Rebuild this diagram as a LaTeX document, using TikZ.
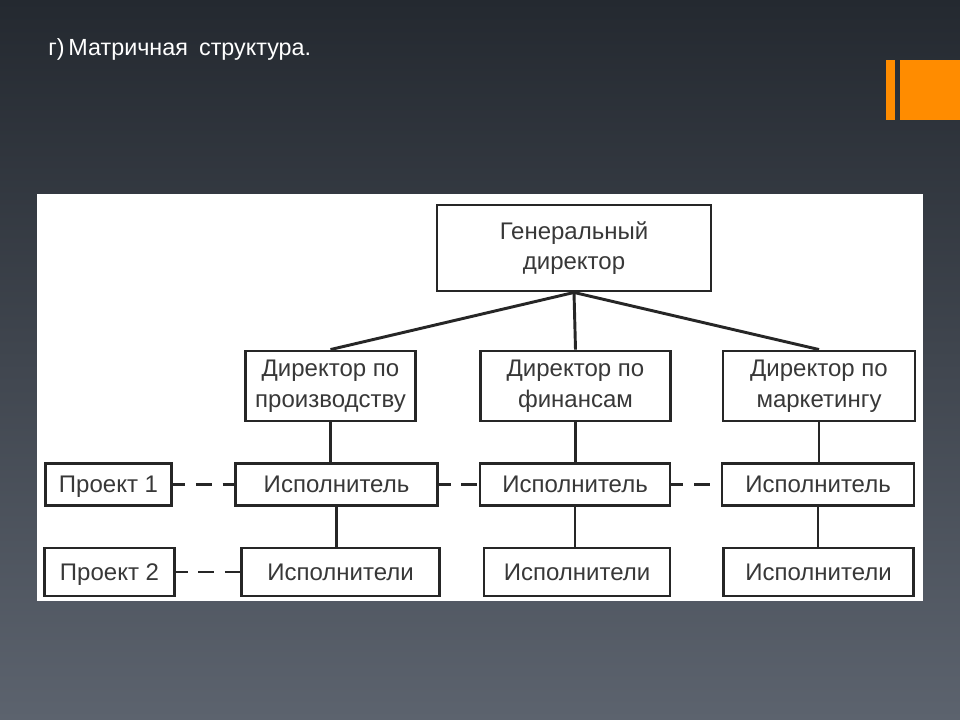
\documentclass[tikz,border=0pt]{standalone}
\usepackage{fontspec}
\setmainfont{Liberation Sans}
\usetikzlibrary{positioning}
\definecolor{bgtop}{RGB}{36,41,48}
\definecolor{bgmid}{RGB}{48,54,62}
\definecolor{bgbot}{RGB}{92,99,110}
\definecolor{accent}{RGB}{255,140,0}
\begin{document}
\begin{tikzpicture}[x=0.75pt,y=-0.75pt,box/.style={draw=black!85,line width=2.2pt,fill=white,align=center,inner sep=0pt,text=black!78,font=\fontsize{18}{23}\selectfont},link/.style={draw=black!85,line width=2.2pt},proj/.style={link,dash pattern=on 12pt off 8pt,dash phase=3pt}]
  % slide background
  \shade[top color=bgtop,middle color=bgmid,bottom color=bgbot] (0,0) rectangle (960,720);
  \useasboundingbox (0,0) rectangle (960,720);
  \fill[accent] (886,60) rectangle (895,120);
  \fill[accent] (900,60) rectangle (960,120);
  \node[anchor=base west,inner sep=0pt,text=white,font=\fontsize{17.5}{20}\selectfont] (title) at (48,56) {г)\,Матричная\hspace{0.2em} структура.};
  \fill[white] (37,194) rectangle (923,601);
  % top level
  \node[box,minimum width=205.5pt,minimum height=64.5pt] (gen) at (574,248) {Генеральный\\директор};
  \node[box,minimum width=128pt,minimum height=52.5pt] (d1) at (330.5,386) {Директор по\\производству};
  \node[box,minimum width=142pt,minimum height=52.5pt] (d2) at (575.5,386) {Директор по\\финансам};
  \node[box,minimum width=144pt,minimum height=52.5pt] (d3) at (819,386) {Директор по\\маркетингу};
  % project 1 row
  \node[box,minimum width=95pt,minimum height=32pt,text depth=0pt] (p1) at (108.5,484.5) {Проект 1};
  \node[box,minimum width=151pt,minimum height=32pt] (e1) at (336.5,484.5) {Исполнитель};
  \node[box,minimum width=142.5pt,minimum height=32pt] (e2) at (575,484.5) {Исполнитель};
  \node[box,minimum width=144pt,minimum height=32pt] (e3) at (818,484.5) {Исполнитель};
  % project 2 row
  \node[box,minimum width=97pt,minimum height=36pt,text depth=0pt] (p2) at (109.5,572) {Проект 2};
  \node[box,minimum width=148pt,minimum height=36pt] (t1) at (340.5,572) {Исполнители};
  \node[box,minimum width=139.5pt,minimum height=36pt] (t2) at (577,572) {Исполнители};
  \node[box,minimum width=142pt,minimum height=36pt] (t3) at (818.5,572) {Исполнители};
  % connectors
  \draw[link] (gen.south) -- (d1.north);
  \draw[link] (gen.south) -- (d2.north);
  \draw[link] (gen.south) -- (d3.north);
  \draw[link] (d1.south) -- (d1.south |- e1.north);
  \draw[link] (d2.south) -- (d2.south |- e2.north);
  \draw[link] (d3.south) -- (d3.south |- e3.north);
  \draw[link] (e1.south) -- (e1.south |- t1.north);
  \draw[link] (e2.south) -- (e2.south |- t2.north);
  \draw[link] (e3.south) -- (e3.south |- t3.north);
  \draw[proj] (p1.east) -- (e1.west);
  \draw[proj] (e1.east) -- (e2.west);
  \draw[proj] (e2.east) -- (e3.west);
  \draw[proj] (p2.east) -- (t1.west);
\end{tikzpicture}
\end{document}
